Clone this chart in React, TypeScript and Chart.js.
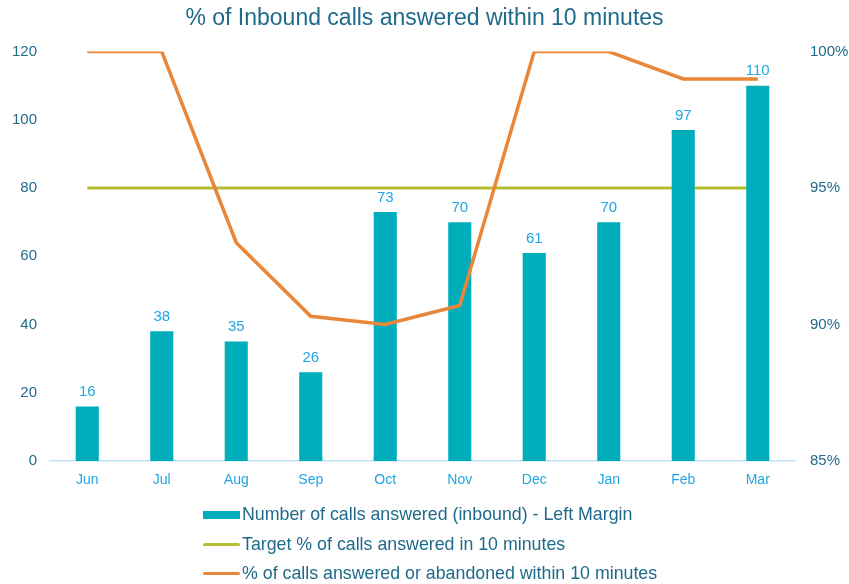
import React, { useEffect, useRef } from "react";
import { Chart, registerables } from "chart.js";

Chart.register(...registerables);

const months = ["Jun", "Jul", "Aug", "Sep", "Oct", "Nov", "Dec", "Jan", "Feb", "Mar"];
const callsAnswered = [16, 38, 35, 26, 73, 70, 61, 70, 97, 110];
const targetPct = [95, 95, 95, 95, 95, 95, 95, 95, 95, 95];
const answeredOrAbandonedPct = [100, 100, 93, 90.3, 90, 90.7, 100, 100, 99, 99];
const leftTicks = [0, 20, 40, 60, 80, 100, 120];
const rightTicks = [85, 90, 95, 100];

const TITLE = "% of Inbound calls answered within 10 minutes";
const LABEL_BARS = "Number of calls answered (inbound) - Left Margin";
const LABEL_TARGET = "Target % of calls answered in 10 minutes";
const LABEL_LINE = "% of calls answered or abandoned within 10 minutes";

const TEAL = "#00AEBB";
const GREEN = "#B5BD33";
const ORANGE = "#E8863A";
const DARK = "#1F6A8B";
const LIGHT = "#21A6E3";
const FONT = "'Liberation Sans', Arial, sans-serif";

const dataLabels = {
  id: "dataLabels",
  afterDatasetsDraw(chart: any) {
    const ctx = chart.ctx;
    const idx = chart.data.datasets.findIndex((d: any) => d.type === "bar");
    const meta = chart.getDatasetMeta(idx);
    ctx.save();
    ctx.fillStyle = LIGHT;
    ctx.font = "15px " + FONT;
    ctx.textAlign = "center";
    ctx.textBaseline = "bottom";
    meta.data.forEach((el: any, i: number) => {
      ctx.fillText(String(callsAnswered[i]), el.x, el.y - 7);
    });
    ctx.restore();
  },
};

export default function App() {
  const ref = useRef<HTMLCanvasElement>(null);
  useEffect(() => {
    if (!ref.current) return;
    const chart = new Chart(ref.current, {
      data: {
        labels: months,
        datasets: [
          {
            type: "line",
            label: LABEL_LINE,
            data: answeredOrAbandonedPct,
            borderColor: ORANGE,
            backgroundColor: ORANGE,
            borderWidth: 3.5,
            pointRadius: 0,
            yAxisID: "y1",
            order: 0,
          },
          {
            type: "bar",
            label: LABEL_BARS,
            data: callsAnswered,
            backgroundColor: TEAL,
            barPercentage: 0.62,
            categoryPercentage: 0.5,
            yAxisID: "y",
            order: 1,
          },
          {
            type: "line",
            label: LABEL_TARGET,
            data: targetPct,
            borderColor: GREEN,
            backgroundColor: GREEN,
            borderWidth: 3,
            pointRadius: 0,
            yAxisID: "y1",
            order: 2,
          },
        ] as any,
      },
      options: {
        animation: false,
        responsive: false,
        maintainAspectRatio: false,
        layout: { padding: { left: 0, right: 0, top: 0, bottom: 0 } },
        plugins: {
          legend: { display: false },
          tooltip: { enabled: false },
          title: {
            display: true,
            text: TITLE,
            color: DARK,
            font: { family: FONT, size: 23, weight: "normal" },
            padding: { top: 5, bottom: 19 },
          },
        },
        scales: {
          x: {
            grid: { display: false, drawTicks: false },
            border: { display: true, color: "#BFE6F6", width: 1.5 },
            ticks: { color: LIGHT, font: { family: FONT, size: 14 }, padding: 11 },
            afterFit: (s: any) => {
              s.height = 123;
            },
          },
          y: {
            position: "left",
            min: 0,
            max: 120,
            grid: { display: false, drawTicks: false },
            border: { display: false },
            afterBuildTicks: (s: any) => {
              s.ticks = leftTicks.map((v) => ({ value: v }));
            },
            ticks: { color: DARK, font: { family: FONT, size: 15 }, padding: 13 },
            afterFit: (s: any) => {
              s.width = 50;
            },
          },
          y1: {
            position: "right",
            min: 85,
            max: 100,
            grid: { display: false, drawTicks: false },
            border: { display: false },
            afterBuildTicks: (s: any) => {
              s.ticks = rightTicks.map((v) => ({ value: v }));
            },
            ticks: {
              color: DARK,
              font: { family: FONT, size: 15 },
              padding: 15,
              callback: (v: any) => v + "%",
            },
            afterFit: (s: any) => {
              s.width = 54;
            },
          },
        },
      } as any,
      plugins: [dataLabels],
    });
    return () => chart.destroy();
  }, []);

  const legendItems = [
    { label: LABEL_BARS, color: TEAL, kind: "bar" },
    { label: LABEL_TARGET, color: GREEN, kind: "line" },
    { label: LABEL_LINE, color: ORANGE, kind: "line" },
  ];

  return (
    <div style={{ position: "fixed", left: 0, top: 0, width: 849, height: 584, background: "#fff" }}>
      <canvas ref={ref} width={849} height={584} style={{ position: "absolute", left: 0, top: 0 }} />
      <div style={{ position: "absolute", left: 203, top: 500, fontFamily: FONT, fontSize: 17.8, color: DARK }}>
        {legendItems.map((it, i) => (
          <div key={i} style={{ display: "flex", alignItems: "center", height: 29.5, whiteSpace: "nowrap" }}>
            <span
              style={{
                display: "inline-block",
                width: 37,
                height: it.kind === "bar" ? 8 : 3,
                background: it.color,
                marginRight: 2,
                borderRadius: it.kind === "bar" ? 0 : 1.5,
              }}
            />
            <span>{it.label}</span>
          </div>
        ))}
      </div>
    </div>
  );
}
